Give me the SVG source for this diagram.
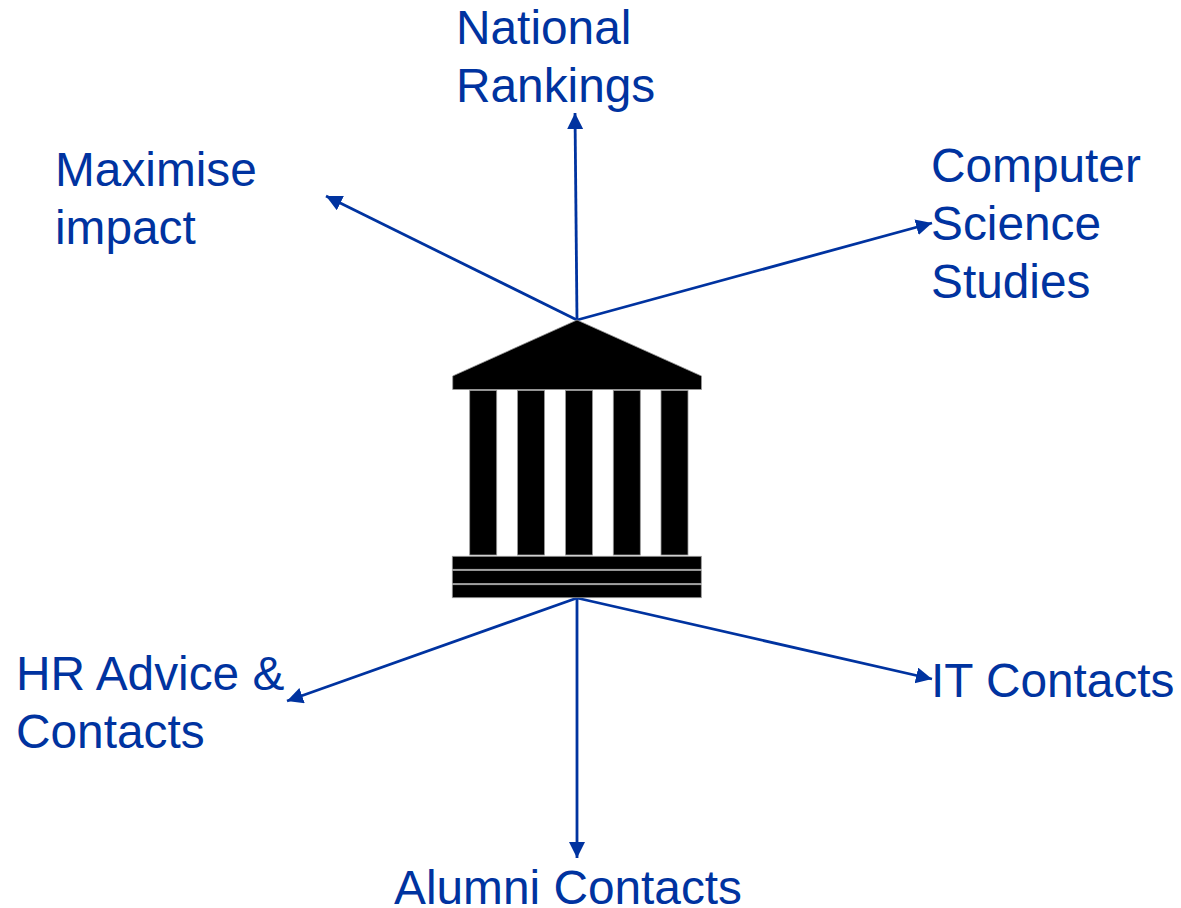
<svg xmlns="http://www.w3.org/2000/svg" width="1181" height="908" viewBox="0 0 1181 908">
<style>
.t{font-family:"Liberation Sans",Arial,sans-serif;font-size:47.8px;fill:#0033a0}
.c{stroke:#0033a0;stroke-width:2.8;fill:none;marker-end:url(#a)}
.b{fill:#000;stroke:#999;stroke-width:.8}
</style>
<defs><marker id="a" markerUnits="userSpaceOnUse" markerWidth="18" markerHeight="18" refX="16" refY="8" orient="auto"><path d="M0 0L16 8L0 16Z" fill="#0033a0"/></marker></defs>
<rect width="1181" height="908" fill="#fff"/>
<g id="connectors">
<path class="c" d="M577 320L326 196"/>
<path class="c" d="M577 320L575 113"/>
<path class="c" d="M577 320L932 223"/>
<path class="c" d="M577 598L287 701"/>
<path class="c" d="M577 598L932 679"/>
<path class="c" d="M577 598V858"/>
</g>
<g id="building">
<path class="b" d="M577 320L701.500 376V389.500H452.700V376Z"/>
<rect class="b" x="469.700" y="390.500" width="27" height="164.500"/>
<rect class="b" x="517.500" y="390.500" width="27" height="164.500"/>
<rect class="b" x="565.500" y="390.500" width="27" height="164.500"/>
<rect class="b" x="613.300" y="390.500" width="27" height="164.500"/>
<rect class="b" x="661" y="390.500" width="27" height="164.500"/>
<rect class="b" x="452.300" y="556.300" width="249" height="13"/>
<rect class="b" x="452.300" y="570.500" width="249" height="13"/>
<rect class="b" x="452.300" y="584.700" width="249" height="13"/>
</g>
<g id="national"><text class="t" x="456" y="44">National</text><text class="t" x="456" y="102">Rankings</text></g>
<g id="maximise"><text class="t" x="55" y="186">Maximise</text><text class="t" x="55" y="244">impact</text></g>
<g id="computer"><text class="t" x="931" y="182">Computer</text><text class="t" x="931" y="240">Science</text><text class="t" x="931" y="298">Studies</text></g>
<g id="hr"><text class="t" x="16" y="690">HR Advice &amp;</text><text class="t" x="16" y="748">Contacts</text></g>
<g id="it"><text class="t" x="931" y="696.500">IT Contacts</text></g>
<g id="alumni"><text class="t" x="394" y="904">Alumni Contacts</text></g>
</svg>
